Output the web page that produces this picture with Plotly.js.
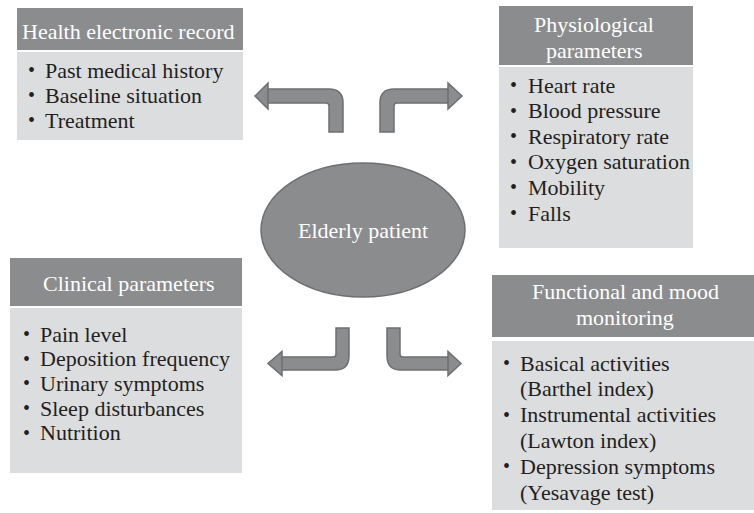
<!DOCTYPE html>
<html>
<head>
<meta charset="utf-8">
<script src="https://cdn.plot.ly/plotly-3.0.1.min.js"></script>
<style>html,body{margin:0;padding:0;background:#fff;}#chart{width:754px;height:513px;}</style>
</head>
<body>
<div id="chart"></div>
<script>
// ---- Content ----
const centerLabel = "Elderly patient";
const boxTitles = [["Health electronic record"], ["Physiological", "parameters"], ["Clinical parameters"], ["Functional and mood", "monitoring"]];
const recordItems = [["Past medical history"], ["Baseline situation"], ["Treatment"]];
const physioItems = [["Heart rate"], ["Blood pressure"], ["Respiratory rate"], ["Oxygen saturation"], ["Mobility"], ["Falls"]];
const clinicalItems = [["Pain level"], ["Deposition frequency"], ["Urinary symptoms"], ["Sleep disturbances"], ["Nutrition"]];
const functionalItems = [["Basical activities", "(Barthel index)"], ["Instrumental activities", "(Lawton index)"], ["Depression symptoms", "(Yesavage test)"]];

// ---- Layout geometry (pixel space) ----
const W = 754, H = 513;
const HEAD = "#8b8c8e", BODY = "#dcdddf", TXT = "#231f20", ARROW = "#8b8c8e", ARROW_LINE = "#6e6f71";
const FONT = "'Liberation Serif', 'Times New Roman', serif";
const FS = 22;

const boxes = [
  {title: boxTitles[0], items: recordItems, x0: 17, x1: 243, hy0: 8, hy1: 50, by0: 52, by1: 140, tx: 128.5, ty: 31, bx: 31, lx: 43, fy: 70, step: 25},
  {title: boxTitles[1], items: physioItems, x0: 499, x1: 693, hy0: 6, hy1: 65, by0: 67, by1: 248, tx: 594, ty: 37, bx: 513, lx: 526, fy: 85, step: 25.6},
  {title: boxTitles[2], items: clinicalItems, x0: 10, x1: 242, hy0: 258, hy1: 306, by0: 308, by1: 473, tx: 128.5, ty: 283, bx: 26, lx: 38, fy: 334, step: 24.7},
  {title: boxTitles[3], items: functionalItems, x0: 492, x1: 756, hy0: 275, hy1: 337, by0: 341, by1: 510, tx: 625, ty: 304.5, bx: 506, lx: 518, fy: 363, step: 25.8}
];
const TITLE_STEP = 26;

const shapes = [];
const annotations = [];

boxes.forEach(b => {
  shapes.push({type: "rect", xref: "x", yref: "y", x0: b.x0, x1: b.x1, y0: b.hy0, y1: b.hy1, fillcolor: HEAD, line: {width: 0}, layer: "below"});
  shapes.push({type: "rect", xref: "x", yref: "y", x0: b.x0, x1: b.x1, y0: b.by0, y1: b.by1, fillcolor: BODY, line: {width: 0}, layer: "below"});
  const n = b.title.length;
  b.title.forEach((t, i) => {
    annotations.push({x: b.tx, y: b.ty + (i - (n - 1) / 2) * TITLE_STEP, xref: "x", yref: "y", text: t, showarrow: false, xanchor: "center", yanchor: "middle", align: "center", font: {family: FONT, size: FS, color: "#ffffff"}});
  });
  let line = 0;
  b.items.forEach(item => {
    item.forEach((t, k) => {
      const y = b.fy + line * b.step;
      if (k === 0) {
        annotations.push({x: b.bx, y: y, xref: "x", yref: "y", text: "•", showarrow: false, xanchor: "center", yanchor: "middle", font: {family: FONT, size: FS - 2, color: TXT}});
      }
      annotations.push({x: b.lx, y: y, xref: "x", yref: "y", text: t, showarrow: false, xanchor: "left", yanchor: "middle", align: "left", font: {family: FONT, size: FS, color: TXT}});
      line++;
    });
  });
});

// centre ellipse
shapes.push({type: "circle", xref: "x", yref: "y", x0: 261, x1: 465, y0: 163, y1: 297, fillcolor: "#8b8c8e", line: {color: "#6e6f71", width: 1.5}});
annotations.push({x: 363, y: 230, xref: "x", yref: "y", text: centerLabel, showarrow: false, xanchor: "center", yanchor: "middle", font: {family: FONT, size: FS, color: "#ffffff"}});

function bentArrow(vx0, vx1, vEnd, hy0, hy1, headBase, tip, headHalf) {
  const left = tip < vx0;
  const up = hy0 < vEnd;
  const cy = (hy0 + hy1) / 2;
  const r = 14, ri = 3;
  const ox = left ? vx1 : vx0;
  const ix = left ? vx0 : vx1;
  const oy = up ? hy0 : hy1;
  const iy = up ? hy1 : hy0;
  const sx = left ? -1 : 1;
  const sy = up ? -1 : 1;
  let p = "";
  p += `M${ox},${vEnd} `;
  p += `L${ox},${oy - sy * r} `;
  p += `Q${ox},${oy} ${ox + sx * r},${oy} `;
  p += `L${headBase},${oy} `;
  p += `L${headBase},${cy - sy * headHalf} `;
  p += `L${tip},${cy} `;
  p += `L${headBase},${cy + sy * headHalf} `;
  p += `L${headBase},${iy} `;
  p += `L${ix + sx * ri},${iy} `;
  p += `Q${ix},${iy} ${ix},${iy - sy * ri} `;
  p += `L${ix},${vEnd} Z`;
  return {type: "path", xref: "x", yref: "y", path: p, fillcolor: ARROW, line: {color: ARROW_LINE, width: 1.5}};
}
shapes.push(bentArrow(329, 343, 132, 89, 103, 268, 255, 13));
shapes.push(bentArrow(380, 394, 132, 89, 103, 448, 462, 13));
shapes.push(bentArrow(336, 349, 328, 357, 370, 282, 268, 12));
shapes.push(bentArrow(387, 400, 328, 357, 370, 448, 461, 12));

const layout = {
  width: W, height: H,
  margin: {l: 0, r: 0, t: 0, b: 0, pad: 0},
  paper_bgcolor: "#ffffff", plot_bgcolor: "#ffffff",
  showlegend: false,
  xaxis: {range: [0, W], visible: false, fixedrange: true},
  yaxis: {range: [H, 0], visible: false, fixedrange: true},
  shapes: shapes,
  annotations: annotations
};

Plotly.newPlot("chart", [{x: [], y: [], type: "scatter", hoverinfo: "skip"}], layout, {staticPlot: true, displayModeBar: false});
</script>
</body>
</html>
